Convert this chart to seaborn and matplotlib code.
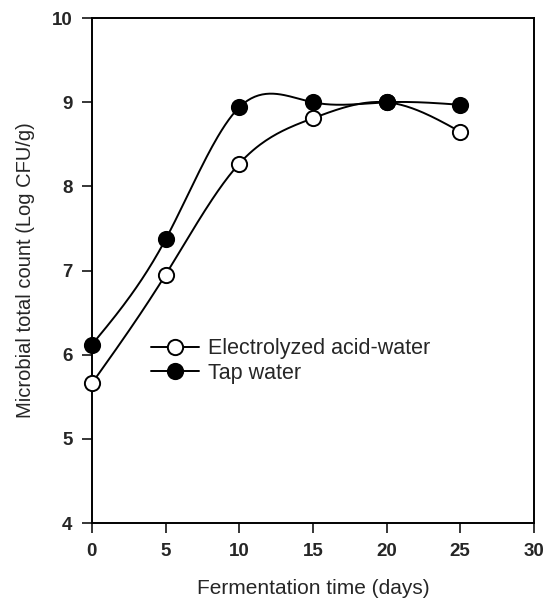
import numpy as np
import pandas as pd
import matplotlib
matplotlib.use("Agg")
import matplotlib.pyplot as plt
import seaborn as sns
from matplotlib.lines import Line2D

days = [0, 5, 10, 15, 20, 25]
electrolyzed = [5.66, 6.95, 8.27, 8.81, 9.00, 8.65]
tap_water = [6.12, 7.37, 8.94, 9.00, 9.00, 8.97]
series_names = ["Electrolyzed acid-water", "Tap water"]
x_ticks = [0, 5, 10, 15, 20, 25, 30]
y_ticks = [4, 5, 6, 7, 8, 9, 10]


def natural_spline(x, y, n=200):
    x = np.asarray(x, float); y = np.asarray(y, float)
    m = len(x); h = np.diff(x)
    A = np.zeros((m, m)); b = np.zeros(m)
    A[0, 0] = 1; A[-1, -1] = 1
    for i in range(1, m - 1):
        A[i, i - 1] = h[i - 1]; A[i, i] = 2 * (h[i - 1] + h[i]); A[i, i + 1] = h[i]
        b[i] = 3 * ((y[i + 1] - y[i]) / h[i] - (y[i] - y[i - 1]) / h[i - 1])
    c = np.linalg.solve(A, b)
    xs = np.linspace(x[0], x[-1], n); ys = np.empty_like(xs)
    for k, xv in enumerate(xs):
        i = min(np.searchsorted(x, xv, side="right") - 1, m - 2)
        bb = (y[i + 1] - y[i]) / h[i] - h[i] * (2 * c[i] + c[i + 1]) / 3
        d = (c[i + 1] - c[i]) / (3 * h[i]); t = xv - x[i]
        ys[k] = y[i] + bb * t + c[i] * t ** 2 + d * t ** 3
    return xs, ys


sns.set_theme(style="ticks")
plt.rcParams["font.family"] = ["Liberation Sans", "DejaVu Sans"]

fig = plt.figure(figsize=(5.47, 6.04), dpi=100)
ax = fig.add_axes([0.168, 0.134, 0.808, 0.836])

face = {series_names[0]: "white", series_names[1]: "black"}
for name, vals in zip(series_names, [electrolyzed, tap_water]):
    xs, ys = natural_spline(days, vals)
    sns.lineplot(x=xs, y=ys, ax=ax, color="black", lw=1.4, zorder=2)
    sns.scatterplot(x=days, y=vals, ax=ax, s=120, facecolor=face[name],
                    edgecolor="black", linewidth=1.4, zorder=3, clip_on=False)

ax.set_xlim(0, 30)
ax.set_ylim(4, 10)
ax.set_xticks(x_ticks)
ax.set_yticks(y_ticks)
ax.tick_params(axis="both", direction="out", length=7, width=1.3, labelsize=13.5, pad=7)
for lab in ax.get_xticklabels() + ax.get_yticklabels():
    lab.set_fontweight("bold")
for sp in ax.spines.values():
    sp.set_visible(True); sp.set_linewidth(1.4); sp.set_color("black")

ax.set_xlabel("Fermentation time (days)", fontsize=15, labelpad=14)
ax.set_ylabel("Microbial total count (Log CFU/g)", fontsize=14.5, labelpad=12)

handles = [Line2D([], [], color="black", lw=1.4, marker="o", markersize=11,
                  markerfacecolor=face[n], markeredgecolor="black", markeredgewidth=1.4)
           for n in series_names]
ax.legend(handles, series_names, loc="upper left", bbox_to_anchor=(0.115, 0.383),
          frameon=False, fontsize=15.5, handlelength=2.2, handletextpad=0.45,
          labelspacing=0.15, borderaxespad=0)

fig.savefig("out.png", dpi=100)
